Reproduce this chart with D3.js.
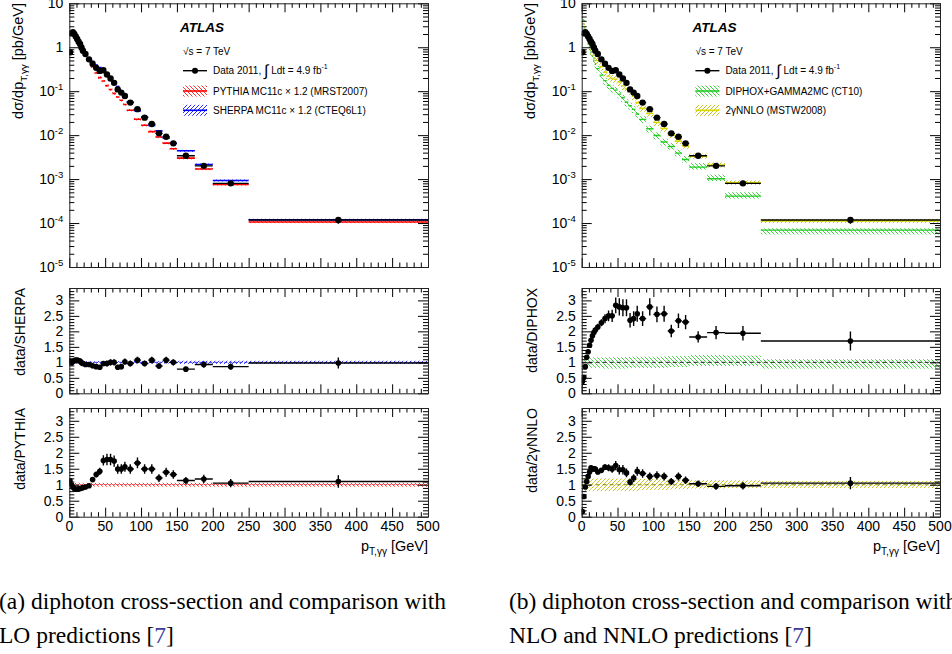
<!DOCTYPE html>
<html><head><meta charset="utf-8">
<script src="https://cdn.jsdelivr.net/npm/d3@7/dist/d3.min.js"></script>
<style>
html,body{margin:0;padding:0;background:#fff;}
svg{display:block;}
text{font-family:"Liberation Sans",Arial,Helvetica,sans-serif;fill:#000;}
text.cap{font-family:"Liberation Serif","Times New Roman",serif;}
</style></head><body>
<svg id="chart" width="952" height="654"></svg>
<script>
// ---------------- data ----------------
const binEdges = [0,2,4,6,8,10,12,14,16,18,20,25,30,35,40,45,50,55,60,65,70,75,80,90,100,110,120,130,140,150,175,200,250,500];
const dataXS = [0.77,2.07,2.2,2.0,1.75,1.55,1.34,1.19,0.99,0.83, 0.70,0.53,0.42,0.34,0.29,0.30,0.24,0.195,0.155,0.11,0.093,0.078, 0.055,0.039,0.025,0.0179,0.011,0.0092,0.0065, 0.0034,0.0020,0.0008,0.000117];
const dataRelErr = [0.06,0.05,0.05,0.05,0.05,0.05,0.05,0.05,0.05,0.05, 0.05,0.05,0.06,0.07,0.08,0.09,0.1,0.1,0.1,0.1,0.1,0.1, 0.1,0.1,0.1,0.1,0.1,0.1,0.1, 0.1,0.11,0.12,0.18];
const pythiaXS = [0.69,2.07,2.37,2.27,2.03,1.80,1.54,1.35,1.11,0.91, 0.75,0.55,0.36,0.26,0.204,0.170,0.134,0.109,0.089,0.074,0.062,0.050, 0.037,0.023,0.0168,0.012,0.0091,0.0066,0.0049, 0.0030,0.0017,0.00076,0.000106];
const sherpaXS = [0.73,2.11,2.14,1.89,1.64,1.45,1.26,1.14,1.0,0.86, 0.75,0.57,0.47,0.395,0.345,0.31,0.25,0.195,0.155,0.128,0.100,0.080, 0.057,0.036,0.026,0.0167,0.0125,0.0086,0.0065, 0.0044,0.00215,0.00093,0.000119];
const diphoxXS = [2.03,4.06,2.56,1.72,1.31,1.0,0.78,0.64,0.505,0.407, 0.327,0.232,0.174,0.136,0.116,0.106,0.086,0.0707,0.0562,0.0466,0.0386,0.0304, 0.0228,0.014,0.0098,0.0070,0.0055,0.0039,0.0028, 0.00187,0.00102,0.00041,0.000069];
const nnloXS = [4.8,3.29,2.37,1.82,1.39,1.11,0.876,0.80,0.66,0.557, 0.50,0.366,0.271,0.222,0.195,0.1875,0.163,0.133,0.113,0.102,0.077,0.055, 0.0407,0.031,0.0194,0.0142,0.010,0.0073,0.0057, 0.0033,0.0021,0.00082,0.000111];
const ratioSherpa = [1.05,0.98,1.03,1.06,1.07,1.07,1.06,1.04,0.99,0.96, 0.93,0.93,0.89,0.86,0.84,0.96,0.96,1.00,1.00,0.84,0.86,1.02, 0.96,1.07,0.96,1.07,0.88,1.07,1.00, 0.78,0.93,0.86,0.98];
const ratioPythia = [1.12,1.00,0.93,0.88,0.86,0.86,0.87,0.88,0.89,0.91, 0.93,0.97,1.16,1.32,1.42,1.76,1.79,1.79,1.74,1.49,1.49,1.56, 1.49,1.68,1.49,1.49,1.21,1.39,1.32, 1.13,1.18,1.05,1.10];
const ratioDiphox = [0.38,0.51,0.86,1.16,1.34,1.55,1.71,1.86,1.96,2.04, 2.14,2.28,2.41,2.50,2.50,2.84,2.79,2.76,2.76,2.36,2.41,2.57, 2.41,2.79,2.55,2.57,2.01,2.34,2.30, 1.82,1.96,1.94,1.69];
const ratioNnlo = [0.16,0.63,0.93,1.10,1.26,1.40,1.53,1.49,1.50,1.49, 1.40,1.45,1.55,1.53,1.49,1.60,1.47,1.47,1.37,1.08,1.21,1.42, 1.35,1.26,1.29,1.26,1.10,1.26,1.14, 1.03,0.95,0.97,1.05];
const pythiaUnc = [0.06,0.06,0.06,0.06,0.06,0.06,0.06,0.06,0.06,0.06, 0.06,0.06,0.06,0.06,0.06,0.06,0.06,0.06,0.06,0.06,0.06,0.06, 0.06,0.06,0.06,0.06,0.06,0.06,0.06, 0.06,0.06,0.06,0.06];
const sherpaUnc = [0.04,0.04,0.04,0.04,0.04,0.04,0.04,0.04,0.04,0.04, 0.04,0.04,0.04,0.04,0.04,0.04,0.04,0.04,0.04,0.04,0.04,0.04, 0.04,0.04,0.04,0.04,0.04,0.04,0.04, 0.05,0.05,0.05,0.05];
const diphoxUp = [0.22,0.2,0.18,0.17,0.17,0.16,0.16,0.16,0.16,0.16, 0.16,0.16,0.16,0.16,0.17,0.17,0.17,0.17,0.17,0.17,0.18,0.18, 0.18,0.18,0.18,0.18,0.2,0.2,0.2, 0.24,0.24,0.22,0.1];
const diphoxDn = [0.2,0.2,0.18,0.18,0.18,0.18,0.18,0.18,0.18,0.18, 0.18,0.18,0.2,0.2,0.2,0.2,0.2,0.2,0.2,0.18,0.18,0.18, 0.18,0.18,0.18,0.18,0.15,0.15,0.15, 0.12,0.12,0.12,0.2];
const nnloUp = [0.22,0.2,0.2,0.2,0.2,0.2,0.2,0.2,0.2,0.2, 0.2,0.2,0.2,0.2,0.2,0.2,0.2,0.2,0.2,0.2,0.2,0.2, 0.18,0.18,0.18,0.18,0.16,0.16,0.16, 0.15,0.15,0.14,0.12];
const nnloDn = [0.2,0.2,0.2,0.2,0.2,0.2,0.2,0.2,0.2,0.2, 0.2,0.2,0.2,0.2,0.2,0.2,0.2,0.2,0.2,0.2,0.2,0.2, 0.16,0.16,0.16,0.16,0.14,0.14,0.14, 0.12,0.12,0.1,0.1];
const xTickValues = [0,50,100,150,200,250,300,350,400,450,500];
const logTickValues = [10,1,0.1,0.01,0.001,0.0001,0.00001];
const ratioTickValues = [0,0.5,1,1.5,2,2.5,3];

// ---------------- setup ----------------
const svg = d3.select('#chart');
const defs = svg.append('defs');
function hatch(id, color, dir, sw){
  const p = defs.append('pattern').attr('id',id).attr('patternUnits','userSpaceOnUse').attr('width',4).attr('height',4);
  p.append('path').attr('d', dir==='\\' ? 'M-1,-1L5,5M-1,3L1,5M3,-1L5,1' : 'M-1,5L5,-1M-1,1L1,-1M3,5L5,3')
    .attr('stroke',color).attr('stroke-width',sw||1).attr('fill','none');
}
hatch('hRed','#ff3030','\\',1); hatch('hBlue','#3030ff','/',1); hatch('hGreen','#3fd33f','\\',1); hatch('hYel','#c4c428','/',1);

const bins = d3.range(dataXS.length).map(i=>({i, lo:binEdges[i], hi:binEdges[i+1], c:(binEdges[i]+binEdges[i+1])/2}));

const cols = [{x0:69.3,x1:428,off:0},{x0:581.7,x1:940,off:512.4}];
const rows = {main:[267,3.3], mid:[393.3,288], bot:[516.7,408]};

let clipId=0;
function cleanAxis(s){ s.select('.domain').remove(); s.selectAll('line').attr('stroke','#000').attr('stroke-width',1); }

function drawFrame(x, y, log, showXLabels){
  const [yb,yt] = y.range(), [xl,xr] = x.range();
  const g = svg.append('g');
  const xMinor = d3.range(0,501,10).filter(v=>v%50!==0);
  g.append('g').attr('transform',`translate(0,${yb})`).call(d3.axisBottom(x).tickValues(xTickValues).tickSize(-9).tickFormat('')).call(cleanAxis);
  g.append('g').attr('transform',`translate(0,${yb})`).call(d3.axisBottom(x).tickValues(xMinor).tickSize(-4.5).tickFormat('')).call(cleanAxis);
  g.append('g').attr('transform',`translate(0,${yt})`).call(d3.axisTop(x).tickValues(xTickValues).tickSize(-9).tickFormat('')).call(cleanAxis);
  g.append('g').attr('transform',`translate(0,${yt})`).call(d3.axisTop(x).tickValues(xMinor).tickSize(-4.5).tickFormat('')).call(cleanAxis);
  let major, minor;
  if(log){
    major = logTickValues;
    minor = [];
    logTickValues.slice(1).forEach(d=>{ for(let k=2;k<=9;k++) minor.push(d*k); });
  } else {
    major = ratioTickValues;
    minor = d3.range(1,34).map(k=>k/10).filter(v=>Math.abs(v*2-Math.round(v*2))>1e-6);
  }
  g.append('g').attr('transform',`translate(${xl},0)`).call(d3.axisLeft(y).tickValues(major).tickSize(-10).tickFormat('')).call(cleanAxis);
  g.append('g').attr('transform',`translate(${xl},0)`).call(d3.axisLeft(y).tickValues(minor).tickSize(-5).tickFormat('')).call(cleanAxis);
  g.append('g').attr('transform',`translate(${xr},0)`).call(d3.axisRight(y).tickValues(major).tickSize(-10).tickFormat('')).call(cleanAxis);
  g.append('g').attr('transform',`translate(${xr},0)`).call(d3.axisRight(y).tickValues(minor).tickSize(-5).tickFormat('')).call(cleanAxis);
  g.append('rect').attr('x',xl+0.5).attr('y',yt+0.5).attr('width',xr-xl).attr('height',yb-yt).attr('fill','none').attr('stroke','#222').attr('stroke-width',1);
  // y labels
  major.forEach(v=>{
    const t = g.append('text').attr('x',xl-6).attr('y',y(v)).attr('dy','0.36em').attr('text-anchor','end').attr('font-size',14);
    if(log){
      const e = Math.round(Math.log10(v));
      if(e===0) t.text('1'); else if(e===1) t.text('10');
      else { t.append('tspan').text('10'); t.append('tspan').attr('font-size',9.5).attr('dy',-6).text('-'+Math.abs(e)); }
    } else t.text(String(v));
  });
  if(showXLabels){
    xTickValues.forEach(v=>{
      g.append('text').attr('x',x(v)).attr('y',yb+14).attr('text-anchor','middle').attr('font-size',14).text(String(v));
    });
  }
}

function clipFor(x,y){
  const id='clip'+(clipId++);
  const [yb,yt]=y.range(), [xl,xr]=x.range();
  defs.append('clipPath').attr('id',id).append('rect').attr('x',xl).attr('y',yt).attr('width',xr-xl).attr('height',yb-yt);
  return svg.append('g').attr('clip-path',`url(#${id})`);
}

function drawPred(g, x, y, vals, up, dn, color, pat, lw){
  g.append('g').selectAll('rect').data(bins).join('rect')
    .attr('x',d=>x(d.lo)).attr('width',d=>x(d.hi)-x(d.lo))
    .attr('y',d=>y(vals[d.i]*(1+up[d.i]))).attr('height',d=>y(vals[d.i]*(1-dn[d.i]))-y(vals[d.i]*(1+up[d.i])))
    .attr('fill',`url(#${pat})`);
  g.append('g').selectAll('line').data(bins).join('line')
    .attr('x1',d=>x(d.lo)).attr('x2',d=>x(d.hi)).attr('y1',d=>y(vals[d.i])).attr('y2',d=>y(vals[d.i]))
    .attr('stroke',color).attr('stroke-width',lw);
}

function drawRatioBand(g, x, y, up, dn, pat, lineColor, dash){
  g.append('g').selectAll('rect').data(bins).join('rect')
    .attr('x',d=>x(d.lo)).attr('width',d=>x(d.hi)-x(d.lo))
    .attr('y',d=>y(1+up[d.i])).attr('height',d=>y(1-dn[d.i])-y(1+up[d.i]))
    .attr('fill',`url(#${pat})`);
  g.append('line').attr('x1',x(0)).attr('x2',x(500)).attr('y1',y(1)).attr('y2',y(1))
    .attr('stroke',lineColor).attr('stroke-width',1).attr('stroke-dasharray',dash);
}

function drawPoints(g, x, y, vals, r){
  const gg = g.append('g');
  gg.selectAll('line.h').data(bins).join('line').attr('class','h')
    .attr('x1',d=>x(d.lo)).attr('x2',d=>x(d.hi)).attr('y1',d=>y(vals[d.i])).attr('y2',d=>y(vals[d.i]))
    .attr('stroke','#000').attr('stroke-width',1.4);
  gg.selectAll('line.v').data(bins).join('line').attr('class','v')
    .attr('x1',d=>x(d.c)).attr('x2',d=>x(d.c))
    .attr('y1',d=>y(vals[d.i]*(1-dataRelErr[d.i]))).attr('y2',d=>y(vals[d.i]*(1+dataRelErr[d.i])))
    .attr('stroke','#000').attr('stroke-width',1.4);
  gg.selectAll('circle').data(bins).join('circle')
    .attr('cx',d=>x(d.c)).attr('cy',d=>y(vals[d.i])).attr('r',r).attr('fill','#000');
}

function yTitle(xBase, yTop, main, sub, tail, size){
  const t = svg.append('text').attr('transform',`translate(${xBase},${yTop}) rotate(-90)`).attr('text-anchor','end').attr('font-size',size);
  t.append('tspan').text(main);
  if(sub){ t.append('tspan').attr('font-size',size*0.68).attr('dy',4).text(sub); t.append('tspan').attr('dy',-4).text(tail); }
}

function legend(off, items){
  const lx = 183+off;
  svg.append('text').attr('x',180+off).attr('y',32).attr('font-size',13.5).attr('font-weight','bold').attr('font-style','italic').text('ATLAS');
  svg.append('text').attr('x',183+off).attr('y',55).attr('font-size',10).text('\u221As = 7 TeV');
  // data row
  svg.append('line').attr('x1',lx).attr('x2',lx+24).attr('y1',70.7).attr('y2',70.7).attr('stroke','#000').attr('stroke-width',1.4);
  svg.append('circle').attr('cx',lx+12).attr('cy',70.7).attr('r',3).attr('fill','#000');
  const dt = svg.append('text').attr('x',213+off).attr('y',74.3).attr('font-size',10);
  dt.append('tspan').text('Data 2011, ');
  dt.append('tspan').attr('font-size',16).attr('dy',2).text('\u222B');
  dt.append('tspan').attr('dy',-2).text(' Ldt = 4.9 fb');
  dt.append('tspan').attr('font-size',7).attr('dy',-5).text('-1');
  items.forEach((it,k)=>{
    const cy = 91+k*19.3;
    svg.append('rect').attr('x',lx).attr('y',cy-5.5).attr('width',24).attr('height',11).attr('fill',`url(#${it.pat})`);
    svg.append('line').attr('x1',lx).attr('x2',lx+24).attr('y1',cy).attr('y2',cy).attr('stroke',it.color).attr('stroke-width',1.6);
    svg.append('text').attr('x',213+off).attr('y',cy+3.6).attr('font-size',10).text(it.label);
  });
}

// ---------------- draw both columns ----------------
const panels = [
  {col:0, preds:[{vals:pythiaXS,up:pythiaUnc,dn:pythiaUnc,color:'#ff0000',pat:'hRed',lw:1.6},{vals:sherpaXS,up:sherpaUnc,dn:sherpaUnc,color:'#0000ff',pat:'hBlue',lw:1.6}],
   ratios:[{row:'mid',vals:ratioSherpa,up:sherpaUnc,dn:sherpaUnc,pat:'hBlue',line:'#3030ff',dash:'3,2',title:'data/SHERPA'},
           {row:'bot',vals:ratioPythia,up:pythiaUnc,dn:pythiaUnc,pat:'hRed',line:'#cc3030',dash:'2,2',title:'data/PYTHIA'}],
   legend:[{label:'PYTHIA MC11c \u00D7 1.2 (MRST2007)',color:'#ff0000',pat:'hRed'},{label:'SHERPA MC11c \u00D7 1.2 (CTEQ6L1)',color:'#0000ff',pat:'hBlue'}]},
  {col:1, preds:[{vals:diphoxXS,up:diphoxUp,dn:diphoxDn,color:'#22cc22',pat:'hGreen',lw:1.4},{vals:nnloXS,up:nnloUp,dn:nnloDn,color:'#d8d800',pat:'hYel',lw:1.6}],
   ratios:[{row:'mid',vals:ratioDiphox,up:diphoxUp,dn:diphoxDn,pat:'hGreen',line:'#222',dash:'4,3',title:'data/DIPHOX'},
           {row:'bot',vals:ratioNnlo,up:nnloUp,dn:nnloDn,pat:'hYel',line:'#888820',dash:'4,3',title:'data/2\u03B3NNLO'}],
   legend:[{label:'DIPHOX+GAMMA2MC (CT10)',color:'#22cc22',pat:'hGreen'},{label:'2\u03B3NNLO (MSTW2008)',color:'#d8d800',pat:'hYel'}]}
];

panels.forEach(p=>{
  const c = cols[p.col];
  const x = d3.scaleLinear().domain([0,500]).range([c.x0,c.x1]);
  // main
  const yM = d3.scaleLog().domain([1e-5,10]).range(rows.main);
  const gm = clipFor(x,yM);
  p.preds.forEach(pr=>drawPred(gm,x,yM,pr.vals,pr.up,pr.dn,pr.color,pr.pat,pr.lw));
  drawPoints(gm,x,yM,dataXS,3.2);
  drawFrame(x,yM,true,false);
  yTitle(23+c.off,3,'d\u03C3/dp','T,\u03B3\u03B3',' [pb/GeV]',14.5);
  legend(c.off,p.legend);
  // ratios
  p.ratios.forEach(r=>{
    const y = d3.scaleLinear().domain([0,3.4]).range(rows[r.row]);
    const g = clipFor(x,y);
    drawRatioBand(g,x,y,r.up,r.dn,r.pat,r.line,r.dash);
    drawPoints(g,x,y,r.vals,2.8);
    drawFrame(x,y,false,r.row==='bot');
    yTitle(25+c.off,rows[r.row][1],r.title,null,null,14);
  });
  // x title
  const xt = svg.append('text').attr('x',c.x1).attr('y',551).attr('text-anchor','end').attr('font-size',14.5);
  xt.append('tspan').text('p');
  xt.append('tspan').attr('font-size',10).attr('dy',4).text('T,\u03B3\u03B3');
  xt.append('tspan').attr('dy',-4).text(' [GeV]');
});

// captions
function caption(x, l1, l2){
  svg.append('text').attr('class','cap').attr('x',x).attr('y',609).attr('font-size',23.5).text(l1);
  const t = svg.append('text').attr('class','cap').attr('x',x).attr('y',642.5).attr('font-size',23.5);
  t.append('tspan').text(l2+' [');
  t.append('tspan').attr('fill','#3b3b9c').style('fill','#3b3b9c').text('7');
  t.append('tspan').text(']');
}
caption(-1,'(a) diphoton cross-section and comparison with','LO predictions');
caption(509,'(b) diphoton cross-section and comparison with','NLO and NNLO predictions');
</script>
</body></html>
